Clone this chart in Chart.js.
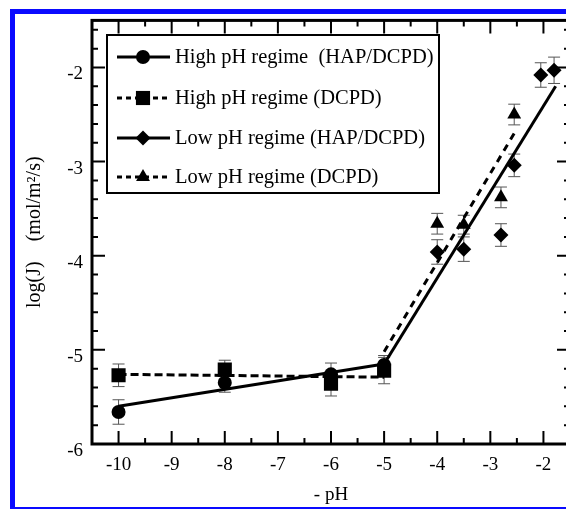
<!DOCTYPE html>
<html>
<head>
<meta charset="utf-8">
<script src="https://cdn.jsdelivr.net/npm/chart.js@4"></script>
<style>
  html, body { margin: 0; padding: 0; background: #fff; overflow: hidden; }
  #wrap { position: relative; width: 566px; height: 510px; overflow: hidden; }
  .frame { position: absolute; background: #0a0aff; }
  #chart { position: absolute; left: 0; top: 0; }
</style>
</head>
<body>
<div id="wrap">
  <div class="frame" style="left:10px;top:9px;width:556px;height:5px"></div>
  <div class="frame" style="left:10px;top:9px;width:5px;height:500px"></div>
  <div class="frame" style="left:10px;top:507px;width:556px;height:2px"></div>
  <canvas id="chart" width="580" height="510" style="width:580px;height:510px"></canvas>
</div>
<script>
const highX = [-10, -8, -6, -5];
const highHapY = [-5.66, -5.35, -5.26, -5.16];
const highHapErr = [0.13, 0.1, 0.12, 0.1];
const highDcpdY = [-5.27, -5.21, -5.36, -5.22];
const highDcpdErr = [0.12, 0.1, 0.13, 0.14];

const lowX = [-4, -3.5, -2.8, -2.55, -2.05, -1.8];
const lowHapY = [-3.96, -3.93, -3.78, -3.04, -2.08, -2.03];
const lowHapErr = [0.13, 0.13, 0.12, 0.12, 0.13, 0.14];
const lowDcpdX = [-4, -3.5, -2.8, -2.55];
const lowDcpdY = [-3.66, -3.67, -3.38, -2.5];
const lowDcpdErr = [0.11, 0.1, 0.11, 0.11];

// fitted lines
const fitHighX = [-10, -5];
const fitHighHapY = [-5.6, -5.15];
const fitHighDcpdY = [-5.26, -5.29];
const fitLowHapX = [-5, -1.77];
const fitLowHapY = [-5.15, -2.2];
const fitLowDcpdX = [-5, -2.55];
const fitLowDcpdY = [-5.02, -2.7];

const xTicks = [-10, -9, -8, -7, -6, -5, -4, -3, -2];
const yTicks = [-6, -5, -4, -3, -2];
const legendLabels = ['High pH regime  (HAP/DCPD)', 'High pH regime (DCPD)', 'Low pH regime (HAP/DCPD)', 'Low pH regime (DCPD)'];

const serif = '"Liberation Serif", "Times New Roman", serif';

function pts(xs, ys) {
  return xs.map((x, i) => ({ x: x, y: ys[i] }));
}

function markerSet(label, xs, ys, errs, style, radius) {
  return {
    label: label,
    data: pts(xs, ys),
    errors: errs,
    showLine: false,
    pointStyle: style,
    pointRadius: radius,
    pointHoverRadius: radius,
    backgroundColor: '#000',
    borderColor: '#000',
    borderWidth: 0
  };
}

function fitSet(xs, ys, dash) {
  return {
    label: 'fit',
    data: pts(xs, ys),
    showLine: true,
    pointRadius: 0,
    borderColor: '#000',
    borderWidth: 3,
    borderDash: dash,
    fill: false
  };
}

const markers = [
  markerSet(legendLabels[0], highX, highHapY, highHapErr, 'circle', 7),
  markerSet(legendLabels[1], highX, highDcpdY, highDcpdErr, 'rect', 10),
  markerSet(legendLabels[2], lowX, lowHapY, lowHapErr, 'rectRot', 7.5),
  markerSet(legendLabels[3], lowDcpdX, lowDcpdY, lowDcpdErr, 'triangle', 8)
];
const legendDash = [[], [5, 4], [], [5, 4]];

// error bars under the markers
const errorBars = {
  id: 'errorBars',
  beforeDatasetsDraw(chart) {
    const ctx = chart.ctx, xs = chart.scales.x, ys = chart.scales.y;
    ctx.save();
    ctx.strokeStyle = '#555';
    ctx.lineWidth = 1;
    chart.data.datasets.forEach(ds => {
      if (!ds.errors) return;
      ds.data.forEach((p, i) => {
        const px = xs.getPixelForValue(p.x);
        const top = ys.getPixelForValue(p.y + ds.errors[i]);
        const bot = ys.getPixelForValue(p.y - ds.errors[i]);
        ctx.beginPath();
        ctx.moveTo(px, top); ctx.lineTo(px, bot);
        ctx.moveTo(px - 6, top); ctx.lineTo(px + 6, top);
        ctx.moveTo(px - 6, bot); ctx.lineTo(px + 6, bot);
        ctx.stroke();
      });
    });
    ctx.restore();
  }
};

// frame with inward ticks on all four sides
const frame = {
  id: 'frame',
  afterDatasetsDraw(chart) {
    const ctx = chart.ctx, a = chart.chartArea;
    const xs = chart.scales.x, ys = chart.scales.y;
    ctx.save();
    ctx.strokeStyle = '#000';
    ctx.lineWidth = 3;
    ctx.strokeRect(a.left, a.top, a.right - a.left, a.bottom - a.top);
    ctx.lineWidth = 2;
    ctx.beginPath();
    for (let v = -10.5; v <= -1.5 + 1e-9; v += 0.5) {
      const len = Number.isInteger(v) ? 13 : 6;
      const px = xs.getPixelForValue(v);
      ctx.moveTo(px, a.bottom); ctx.lineTo(px, a.bottom - len);
      ctx.moveTo(px, a.top); ctx.lineTo(px, a.top + len);
    }
    for (let k = 0; k <= 22; k++) {
      const v = -6 + k * 0.2;
      const len = k % 5 === 0 ? 13 : 6;
      const py = ys.getPixelForValue(v);
      ctx.moveTo(a.left, py); ctx.lineTo(a.left + len, py);
      ctx.moveTo(a.right, py); ctx.lineTo(a.right - len, py);
    }
    ctx.stroke();
    ctx.restore();
  }
};

// boxed legend with line sample + marker
const boxLegend = {
  id: 'boxLegend',
  afterDraw(chart) {
    const ctx = chart.ctx;
    const box = { left: 107, top: 35, right: 439, bottom: 193 };
    ctx.save();
    ctx.fillStyle = '#fff';
    ctx.fillRect(box.left, box.top, box.right - box.left, box.bottom - box.top);
    ctx.strokeStyle = '#000';
    ctx.lineWidth = 2;
    ctx.strokeRect(box.left, box.top, box.right - box.left, box.bottom - box.top);
    const rows = [57, 98, 138, 177];
    markers.forEach((ds, i) => {
      const y = rows[i];
      ctx.strokeStyle = '#000';
      ctx.lineWidth = 3;
      ctx.setLineDash(legendDash[i]);
      ctx.beginPath();
      ctx.moveTo(117, y); ctx.lineTo(170, y);
      ctx.stroke();
      ctx.setLineDash([]);
      ctx.fillStyle = '#000';
      Chart.helpers.drawPoint(ctx, { pointStyle: ds.pointStyle, radius: ds.pointRadius, borderWidth: 0, rotation: 0 }, 143, y);
      ctx.fillStyle = '#000';
      ctx.font = '20.5px ' + serif;
      ctx.textBaseline = 'middle';
      ctx.textAlign = 'left';
      ctx.fillText(legendLabels[i], 175, y + 1);
    });
    ctx.restore();
  }
};

new Chart(document.getElementById('chart'), {
  type: 'scatter',
  data: {
    datasets: markers.concat([
      fitSet(fitHighX, fitHighHapY, []),
      fitSet(fitHighX, fitHighDcpdY, [8, 4]),
      fitSet(fitLowHapX, fitLowHapY, []),
      fitSet(fitLowDcpdX, fitLowDcpdY, [7, 6])
    ])
  },
  options: {
    responsive: false,
    animation: false,
    layout: { padding: { top: 17, right: 10, left: 0, bottom: 0 } },
    plugins: {
      legend: { display: false },
      tooltip: { enabled: false }
    },
    scales: {
      x: {
        type: 'linear',
        min: -10.5,
        max: -1.5,
        afterFit: s => { s.height = 66; },
        afterBuildTicks: s => { s.ticks = xTicks.map(v => ({ value: v })); },
        grid: { display: false, drawTicks: false },
        border: { display: false },
        ticks: { color: '#000', padding: 10, font: { family: serif, size: 19 } },
        title: { display: true, text: '- pH', color: '#000', padding: 4, font: { family: serif, size: 19 } }
      },
      y: {
        type: 'linear',
        min: -6,
        max: -1.5,
        afterFit: s => { s.width = 92; },
        afterBuildTicks: s => { s.ticks = yTicks.map(v => ({ value: v })); },
        grid: { display: false, drawTicks: false },
        border: { display: false },
        ticks: { color: '#000', padding: 9, labelOffset: 7, font: { family: serif, size: 19 } },
        title: { display: true, text: 'log(J)    (mol/m²/s)', color: '#000', padding: 23, font: { family: serif, size: 20 } }
      }
    }
  },
  plugins: [errorBars, frame, boxLegend]
});
</script>
</body>
</html>
